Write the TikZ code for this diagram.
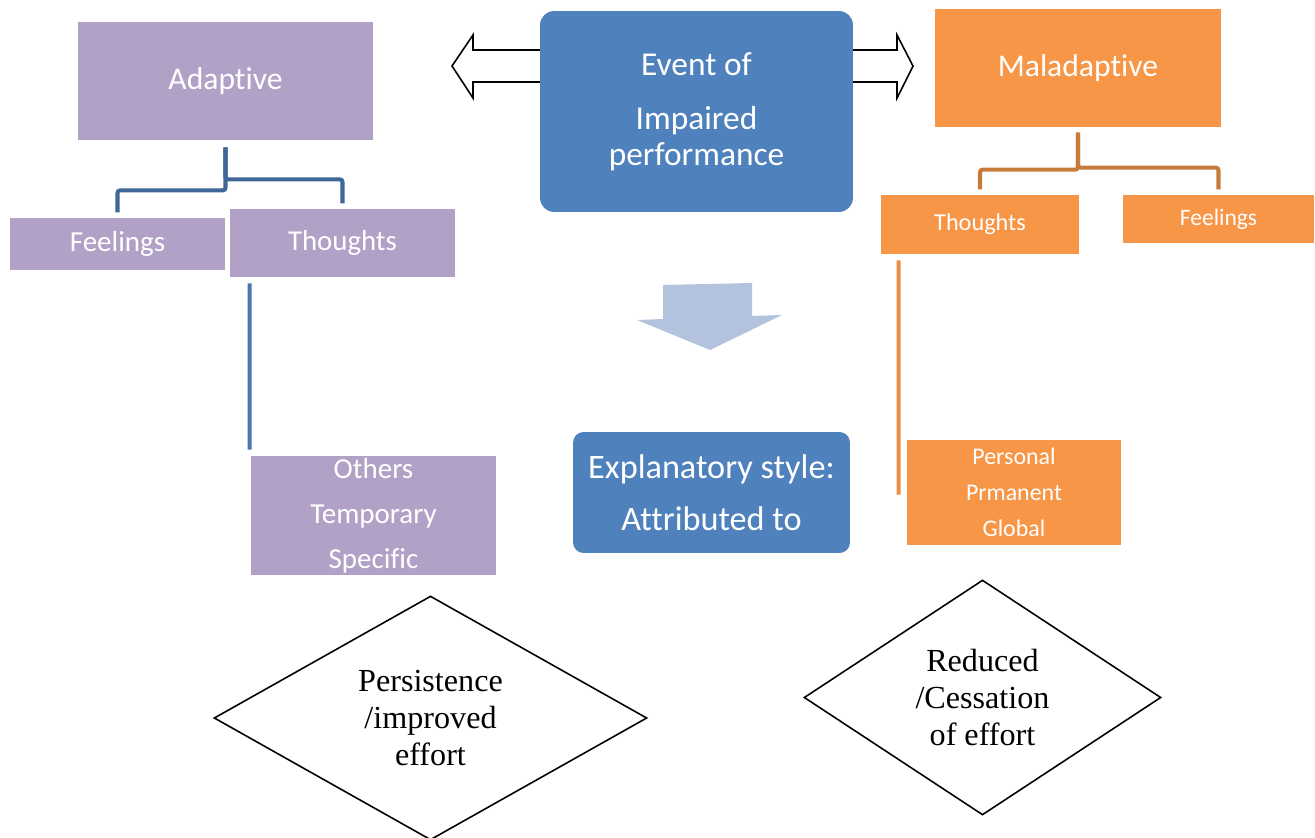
\documentclass[tikz,border=0pt]{standalone}
\usepackage{fontspec}
\setmainfont{Carlito}[Ligatures=NoCommon]
\newfontfamily\timesfont{Liberation Serif}
\usetikzlibrary{shapes.geometric}

\definecolor{adpurple}{HTML}{B2A1C7}
\definecolor{evblue}{HTML}{4F81BD}
\definecolor{maorange}{HTML}{F79646}
\definecolor{adline}{HTML}{3F6798}
\definecolor{adlong}{HTML}{4A75AD}
\definecolor{maline}{HTML}{C77B3B}
\definecolor{malong}{HTML}{EB8F45}
\definecolor{paleblue}{HTML}{B3C3DE}

\tikzset{
  box/.style={inner sep=0pt, align=center, text=white},
  adbox/.style={box, fill=adpurple},
  mabox/.style={box, fill=maorange},
  bluebox/.style={box, fill=evblue, rounded corners=8pt},
  adlink/.style={draw=adline, line width=2.3pt, rounded corners=1.5pt},
  malink/.style={draw=maline, line width=2.3pt, rounded corners=1.5pt},
  outcome/.style={diamond, draw=black, line width=0.9pt, inner sep=0pt,
    align=center, font=\timesfont\fontsize{18.3}{21}\selectfont},
  hollow/.style={draw=black, fill=white, line width=0.9pt, line join=miter}
}

\begin{document}
\begin{tikzpicture}[x=0.02cm, y=-0.02cm]
  \useasboundingbox (0,0) rectangle (1315,838);

  % side arrows behind the event box
  \draw[hollow] (545,50) -- (473,50) -- (473,35) -- (452,66) -- (473,98) -- (473,82) -- (545,82);
  \draw[hollow] (846,50) -- (897,50) -- (897,35) -- (913,66) -- (897,98) -- (897,82) -- (846,82);

  % top row
  \node[bluebox, minimum width=6.26cm, minimum height=4.02cm,
    font=\fontsize{19}{20}\selectfont] (event) at (696.5,111.5)
    {Event of\\[11pt]Impaired\\performance};
  \node[adbox, minimum width=5.9cm, minimum height=2.36cm,
    font=\fontsize{18}{20}\selectfont] (adapt) at (225.5,81) {Adaptive};
  \node[mabox, minimum width=5.72cm, minimum height=2.36cm,
    font=\fontsize{18}{20}\selectfont] (malad) at (1078,68) {Maladaptive};

  % adaptive branch
  \node[adbox, minimum width=4.3cm, minimum height=1.04cm,
    font=\fontsize{16.5}{18}\selectfont] (afeel) at (117.5,244) {Feelings};
  \node[adbox, minimum width=4.5cm, minimum height=1.36cm,
    font=\fontsize{16.4}{18}\selectfont] (athought) at (342.5,243) {Thoughts};
  \node[adbox, minimum width=4.9cm, minimum height=2.38cm,
    font=\fontsize{16.5}{25.6}\selectfont] (aattr) at (373.5,515.5)
    {Others\\Temporary\\Specific};

  % maladaptive branch
  \node[mabox, minimum width=3.96cm, minimum height=1.18cm,
    font=\fontsize{13.8}{16}\selectfont] (mthought) at (980,224.5) {Thoughts};
  \node[mabox, minimum width=3.82cm, minimum height=0.96cm,
    font=\fontsize{13.4}{16}\selectfont] (mfeel) at (1218.5,219) {Feelings};
  \node[mabox, minimum width=4.28cm, minimum height=2.1cm,
    font=\fontsize{13.6}{20.5}\selectfont] (mattr) at (1014,492.5)
    {Personal\\Prmanent\\Global};

  % middle column
  \fill[paleblue] (663,285) -- (752,283) -- (752,316) -- (782,315) -- (710,350)
    -- (637,320) -- (663,319) -- cycle;
  \node[bluebox, rounded corners=6pt, minimum width=5.54cm, minimum height=2.42cm,
    font=\fontsize{19.5}{29.6}\selectfont] (explain) at (711.5,492.5)
    {Explanatory style:\\Attributed to};

  % outcomes
  \node[outcome, minimum width=8.66cm, minimum height=4.88cm] (persist)
    at (430.5,718) {Persistence\\/improved\\effort};
  \node[outcome, minimum width=7.14cm, minimum height=4.7cm] (reduce)
    at (982.5,697.5) {Reduced\\/Cessation\\of effort};

  % tree lines
  \draw[adlink] ([yshift=-4pt]adapt.south) -- ++(0,43) -| ([yshift=3pt]afeel.north);
  \draw[adlink] ([yshift=-4pt]adapt.south) -- ++(0,32) -| ([yshift=3pt]athought.north);
  \draw[draw=adlong, line width=2.3pt]
    ([shift={(20,6)}]athought.south west) -- ([shift={(-1,-6)}]aattr.north west);

  \draw[malink] ([yshift=-3pt]malad.south) -- ++(0,37) -| ([yshift=3pt]mthought.north);
  \draw[malink] ([yshift=-3pt]malad.south) -- ++(0,35) -| ([yshift=3pt]mfeel.north);
  \draw[draw=malong, line width=2.3pt]
    ([shift={(18,6)}]mthought.south west) -- ([shift={(-8,55)}]mattr.north west);
\end{tikzpicture}
\end{document}
